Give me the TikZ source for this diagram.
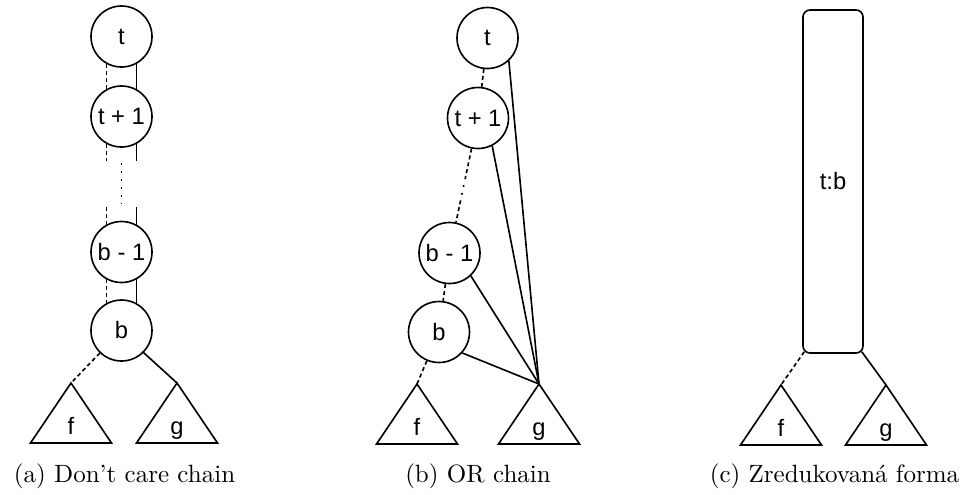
\documentclass[tikz,border=0pt]{standalone}
\usepackage{fontspec}
\newfontfamily\hvfont{Liberation Sans}
\usetikzlibrary{calc}
\newcommand{\mytri}[3]{%
  \coordinate (#1) at (#2);
  \draw (#1) -- ++(-40.5,60) -- ++(81,0) -- cycle;
  \node[lbl] (#1-l) at ($(#1)+(0,51)$) {#3};
}
\begin{document}
\begin{tikzpicture}[x=0.4pt,y=-0.4pt, line width=0.65pt,
  vtx/.style={circle,draw,minimum size=24.4pt,inner sep=0pt,font=\hvfont\fontsize{9.5}{11}\selectfont},
  lbl/.style={font=\hvfont\fontsize{9.5}{11}\selectfont, inner sep=0pt, anchor=base},
  dsh/.style={dash pattern=on 1.6pt off 1.2pt},
  dtt/.style={dash pattern=on 0.7pt off 2.5pt},
  captxt/.style={font=\fontsize{10}{12}\selectfont, inner sep=0pt, anchor=base}]
\path[use as bounding box] (0,0) rectangle (971,494);

% ---------- (a) ----------
\node[vtx] (at)  at (121.5,36.5) {t};
\node[vtx] (at1) at (121.5,116.5) {t + 1};
\node[vtx] (ab1) at (121.5,252) {b - 1};
\node[vtx] (ab)  at (121.5,330.5) {b};
\mytri{af}{71,383}{f}
\mytri{ag}{177,383}{g}
\draw[dsh] (at.241) -- (at1.119);
\draw (at.299) -- (at1.61);
\draw[dsh] (at1.241) -- ++(0,17);
\draw (at1.299) -- ++(0,17);
\coordinate (ad1) at (121.5,163);
\coordinate (ad2) at (121.5,204);
\draw[dtt] (ad1) -- (ad2);
\draw[dsh] (ab1.119) -- ++(0,-18);
\draw (ab1.61) -- ++(0,-18);
\draw[dsh] (ab1.241) -- (ab.119);
\draw (ab1.299) -- (ab.61);
\draw[dsh] (ab) -- (af);
\draw (ab.-45) -- (ag);
\node[captxt] (capa) at (124.5,482) {(a) Don't care chain};

% ---------- (b) ----------
\node[vtx] (bt)  at (487.5,38) {t};
\node[vtx] (bt1) at (478,118) {t + 1};
\node[vtx] (bb1) at (449.5,253) {b - 1};
\node[vtx] (bb)  at (439,332) {b};
\mytri{bf}{417,384}{f}
\mytri{bg}{539,384}{g}
\draw[dsh] (bt) -- (bt1);
\coordinate (bp1) at ($(bt1)!0.44!(bb1)$);
\coordinate (bp2) at ($(bt1)!0.61!(bb1)$);
\draw[dsh] (bt1) -- (bp1);
\draw[dtt] (bp1) -- (bp2);
\draw[dsh] (bp2) -- (bb1);
\draw[dsh] (bb1) -- (bb);
\draw[dsh] (bb) -- (bf);
\draw (bt.-47) -- (bg);
\draw (bt1.-63) -- (bg);
\draw (bb1.-47) -- (bg);
\draw (bb.-42) -- (bg);
\node[captxt] (capb) at (478,482) {(b) OR chain};

% ---------- (c) ----------
\node[draw, rounded corners=2.8pt, minimum width=24pt, minimum height=137.2pt, inner sep=0pt,
  font=\hvfont\fontsize{9.5}{11}\selectfont] (ct) at (833,181.5) {t:b};
\mytri{cf}{781,385}{f}
\mytri{cg}{886,385}{g}
\draw[dsh] ($(ct.south west)+(2,-2)$) -- (cf);
\draw ($(ct.south east)+(-2,-2)$) -- (cg);
\node[captxt] (capc) at (834.5,482) {(c) Zredukovaná forma};
\end{tikzpicture}
\end{document}
